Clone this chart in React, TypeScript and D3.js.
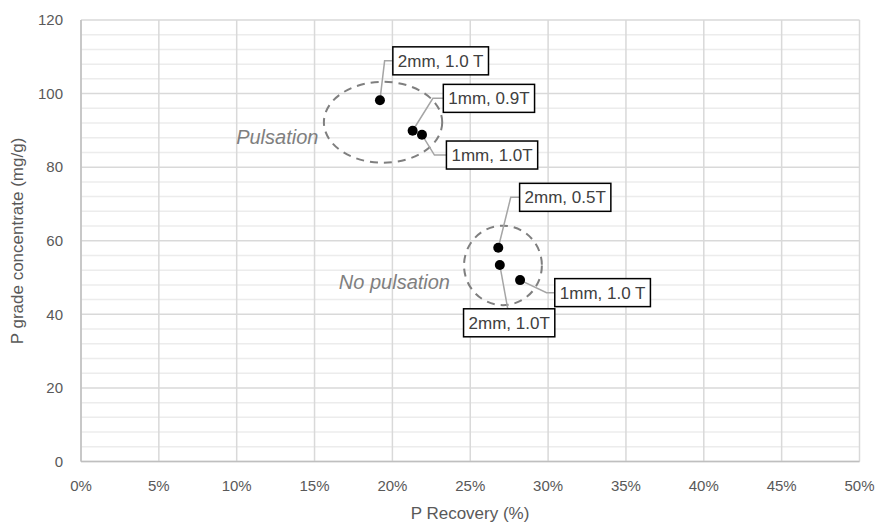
import React, { useEffect, useRef } from 'react';
import * as d3 from 'd3';

// data
const recovery = [0.192, 0.213, 0.219, 0.268, 0.269, 0.282];
const grade = [98.2, 89.9, 88.8, 58.1, 53.4, 49.3];
const labels = ['2mm, 1.0 T', '1mm, 0.9T', '1mm, 1.0T', '2mm, 0.5T', '2mm, 1.0T', '1mm, 1.0 T'];
// label box centres and leader elbows, in data units
const labelX = [0.231, 0.262, 0.264, 0.311, 0.275, 0.335];
const labelY = [108.9, 98.7, 83.3, 71.8, 37.7, 45.9];
const elbowX = [0.195, 0.226, 0.227, 0.276, 0.274, 0.299];
const elbowY = [108.9, 98.7, 83.3, 71.8, 41.7, 45.9];

const groups = ['Pulsation', 'No pulsation'];
const groupCx = [0.194, 0.271];
const groupCy = [92.2, 53.3];
const groupRx = [0.038, 0.025];
const groupRy = [11, 10.8];
const groupTextX = [0.1525, 0.237];
const groupTextY = [88.2, 48.8];

const xTicks = d3.range(0, 0.501, 0.05);
const yTicks = d3.range(0, 121, 20);
const yMinor = d3.range(0, 121, 4);

function Chart() {
  const ref = useRef<SVGSVGElement>(null);

  useEffect(() => {
    const width = 878;
    const height = 524;
    const font = '"Liberation Sans", Arial, sans-serif';

    const x = d3.scaleLinear().domain([0, 0.5]).range([81, 859.5]);
    const y = d3.scaleLinear().domain([0, 120]).range([461.5, 20]);

    const svg = d3.select(ref.current)
      .attr('width', width)
      .attr('height', height)
      .style('font-family', font);
    svg.selectAll('*').remove();

    svg.append('rect').attr('width', width).attr('height', height).attr('fill', '#fff');

    // minor gridlines
    svg.append('g')
      .selectAll('line')
      .data(yMinor.filter(v => v % 20 !== 0))
      .enter()
      .append('line')
      .attr('x1', x(0)).attr('x2', x(0.5))
      .attr('y1', d => y(d)).attr('y2', d => y(d))
      .attr('stroke', '#ececec')
      .attr('stroke-width', 1.5);

    // major gridlines
    svg.append('g')
      .selectAll('line')
      .data(yTicks)
      .enter()
      .append('line')
      .attr('x1', x(0)).attr('x2', x(0.5))
      .attr('y1', d => y(d)).attr('y2', d => y(d))
      .attr('stroke', '#d9d9d9')
      .attr('stroke-width', 1.5);

    svg.append('g')
      .selectAll('line')
      .data(xTicks)
      .enter()
      .append('line')
      .attr('x1', d => x(d)).attr('x2', d => x(d))
      .attr('y1', y(0)).attr('y2', y(120))
      .attr('stroke', '#d9d9d9')
      .attr('stroke-width', 1.5);

    // axis lines
    svg.append('line')
      .attr('x1', x(0)).attr('x2', x(0)).attr('y1', y(0)).attr('y2', y(120))
      .attr('stroke', '#bfbfbf').attr('stroke-width', 1.5);
    svg.append('line')
      .attr('x1', x(0)).attr('x2', x(0.5)).attr('y1', y(0)).attr('y2', y(0))
      .attr('stroke', '#bfbfbf').attr('stroke-width', 1.5);

    // tick labels
    svg.append('g')
      .selectAll('text')
      .data(xTicks)
      .enter()
      .append('text')
      .attr('x', d => x(d))
      .attr('y', 486)
      .attr('dy', '0.35em')
      .attr('text-anchor', 'middle')
      .attr('fill', '#595959')
      .style('font-size', '15px')
      .text(d => d3.format('.0%')(d));

    svg.append('g')
      .selectAll('text')
      .data(yTicks)
      .enter()
      .append('text')
      .attr('x', 63)
      .attr('y', d => y(d))
      .attr('dy', '0.35em')
      .attr('text-anchor', 'end')
      .attr('fill', '#595959')
      .style('font-size', '15px')
      .text(d => d);

    // axis titles
    svg.append('text')
      .attr('x', 470)
      .attr('y', 519)
      .attr('text-anchor', 'middle')
      .attr('fill', '#595959')
      .style('font-size', '17px')
      .text('P Recovery (%)');

    svg.append('text')
      .attr('transform', 'translate(23,241) rotate(-90)')
      .attr('text-anchor', 'middle')
      .attr('fill', '#595959')
      .style('font-size', '17px')
      .text('P grade concentrate (mg/g)');

    // group ellipses
    svg.append('g')
      .selectAll('ellipse')
      .data(groups)
      .enter()
      .append('ellipse')
      .attr('cx', (d, i) => x(groupCx[i]))
      .attr('cy', (d, i) => y(groupCy[i]))
      .attr('rx', (d, i) => x(groupRx[i]) - x(0))
      .attr('ry', (d, i) => y(0) - y(groupRy[i]))
      .attr('fill', 'none')
      .attr('stroke', '#7f7f7f')
      .attr('stroke-width', 2)
      .attr('stroke-dasharray', '8,6');

    svg.append('g')
      .selectAll('text')
      .data(groups)
      .enter()
      .append('text')
      .attr('x', (d, i) => x(groupTextX[i]))
      .attr('y', (d, i) => y(groupTextY[i]))
      .attr('dy', '0.35em')
      .attr('text-anchor', 'end')
      .attr('fill', '#7f7f7f')
      .style('font-size', '20px')
      .style('font-style', 'italic')
      .text(d => d);

    // label boxes, measured from their text
    const boxH = 28;
    const pad = 5;
    const labelG = svg.append('g');
    const texts = labelG.selectAll('text')
      .data(labels)
      .enter()
      .append('text')
      .attr('x', (d, i) => x(labelX[i]))
      .attr('y', (d, i) => y(labelY[i]))
      .attr('dy', '0.35em')
      .attr('text-anchor', 'middle')
      .attr('fill', '#404040')
      .style('font-size', '17px')
      .text(d => d);

    const widths = texts.nodes().map(n => (n as SVGTextElement).getComputedTextLength() + pad * 2);

    // leader lines
    const leaderG = svg.append('g');
    labels.forEach((d, i) => {
      const px = x(recovery[i]);
      const py = y(grade[i]);
      const ex = x(elbowX[i]);
      const ey = y(elbowY[i]);
      const left = x(labelX[i]) - widths[i] / 2;
      const pts: [number, number][] = [[px, py], [ex, ey]];
      if (ex < left) pts.push([left, ey]);
      leaderG.append('path')
        .attr('d', d3.line()(pts))
        .attr('fill', 'none')
        .attr('stroke', '#a5a5a5')
        .attr('stroke-width', 1.5);
    });

    labelG.selectAll('rect')
      .data(labels)
      .enter()
      .insert('rect', 'text')
      .attr('x', (d, i) => x(labelX[i]) - widths[i] / 2)
      .attr('y', (d, i) => y(labelY[i]) - boxH / 2)
      .attr('width', (d, i) => widths[i])
      .attr('height', boxH)
      .attr('fill', '#fff')
      .attr('stroke', '#000')
      .attr('stroke-width', 1.5);
    labelG.raise();

    // points
    svg.append('g')
      .selectAll('circle')
      .data(recovery)
      .enter()
      .append('circle')
      .attr('cx', d => x(d))
      .attr('cy', (d, i) => y(grade[i]))
      .attr('r', 5)
      .attr('fill', '#000');
  }, []);

  return <svg ref={ref} style={{ position: 'absolute', left: 0, top: 0, display: 'block' }}></svg>;
}

export default function App() {
  return <Chart />;
}
